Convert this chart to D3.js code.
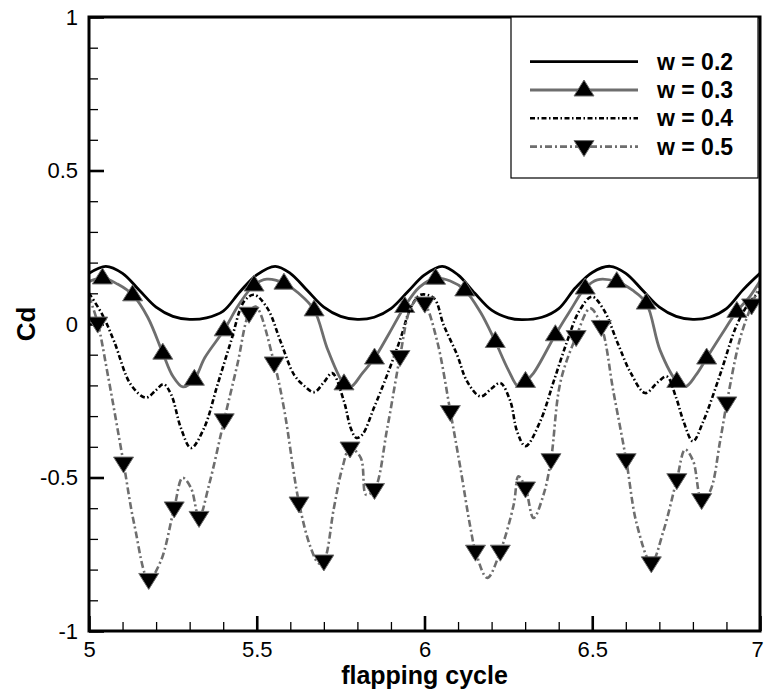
<!DOCTYPE html>
<html>
<head>
<meta charset="utf-8">
<script src="https://cdn.jsdelivr.net/npm/d3@7"></script>
<style>
	body { margin: 0; background: #fff; }
	svg { display: block; font-family: Arial, 'Liberation Sans', sans-serif; }
</style>
</head>
<body>
<svg id="chart" width="764" height="692"></svg>
<script>
'use strict';

var labels = ['w = 0.2', 'w = 0.3', 'w = 0.4', 'w = 0.5'];
var xTicks = [5, 5.5, 6, 6.5, 7];
var yTicks = [-1, -0.5, 0, 0.5, 1];

// Cd vs flapping cycle
var w02 = [
	[5.000,0.165],[5.050,0.188],[5.100,0.165],[5.150,0.110],[5.200,0.055],[5.250,0.025],
	[5.300,0.015],[5.350,0.020],[5.400,0.042],[5.450,0.105],[5.500,0.160],[5.555,0.188],
	[5.600,0.165],[5.650,0.110],[5.700,0.055],[5.750,0.025],[5.800,0.015],[5.850,0.022],
	[5.900,0.050],[5.950,0.105],[6.000,0.160],[6.053,0.188],[6.100,0.160],[6.150,0.100],
	[6.200,0.045],[6.250,0.020],[6.290,0.014],[6.350,0.022],[6.400,0.050],[6.450,0.118],
	[6.500,0.168],[6.553,0.188],[6.600,0.165],[6.650,0.110],[6.700,0.055],[6.750,0.025],
	[6.800,0.015],[6.850,0.022],[6.900,0.050],[6.950,0.112],[7.000,0.165]
];
var w03 = [
	[5.000,0.138],[5.040,0.150],[5.085,0.130],[5.130,0.095],[5.175,0.022],[5.220,-0.095],
	[5.250,-0.170],[5.280,-0.205],[5.314,-0.180],[5.345,-0.110],[5.403,-0.019],[5.445,0.060],
	[5.492,0.127],[5.530,0.146],[5.581,0.133],[5.625,0.100],[5.671,0.046],[5.712,-0.085],
	[5.760,-0.195],[5.780,-0.205],[5.815,-0.160],[5.851,-0.111],[5.895,-0.030],[5.941,0.057],
	[5.985,0.120],[6.033,0.149],[6.077,0.140],[6.120,0.111],[6.167,0.038],[6.211,-0.057],
	[6.250,-0.150],[6.280,-0.204],[6.301,-0.187],[6.325,-0.160],[6.390,-0.035],[6.435,0.045],
	[6.479,0.117],[6.515,0.144],[6.573,0.138],[6.620,0.110],[6.661,0.068],[6.702,-0.085],
	[6.752,-0.187],[6.778,-0.204],[6.810,-0.165],[6.841,-0.111],[6.885,-0.035],[6.931,0.041],
	[6.970,0.090],[7.000,0.140]
];
var w04 = [
	[5.000,0.100],[5.040,0.030],[5.075,-0.057],[5.125,-0.198],[5.170,-0.240],[5.200,-0.215],
	[5.222,-0.196],[5.245,-0.230],[5.274,-0.339],[5.304,-0.404],[5.343,-0.339],[5.383,-0.198],
	[5.423,-0.057],[5.462,0.073],[5.492,0.095],[5.532,0.051],[5.571,-0.057],[5.611,-0.165],
	[5.640,-0.200],[5.671,-0.222],[5.700,-0.190],[5.725,-0.160],[5.760,-0.252],[5.780,-0.339],
	[5.797,-0.371],[5.815,-0.360],[5.849,-0.274],[5.889,-0.165],[5.929,-0.046],[5.958,0.051],
	[5.988,0.095],[6.028,0.084],[6.057,-0.003],[6.097,-0.100],[6.127,-0.187],[6.167,-0.236],
	[6.200,-0.210],[6.226,-0.192],[6.256,-0.252],[6.276,-0.350],[6.301,-0.398],[6.345,-0.317],
	[6.385,-0.187],[6.425,-0.057],[6.460,0.040],[6.499,0.089],[6.535,0.045],[6.575,-0.060],
	[6.615,-0.160],[6.658,-0.225],[6.695,-0.190],[6.722,-0.171],[6.750,-0.240],[6.772,-0.317],
	[6.800,-0.382],[6.831,-0.317],[6.881,-0.165],[6.931,-0.003],[6.970,0.073],[7.000,0.106]
];
var w05 = [
	[5.000,0.090],[5.026,0.003],[5.056,-0.165],[5.103,-0.453],[5.135,-0.653],[5.178,-0.832],
	[5.214,-0.772],[5.254,-0.599],[5.279,-0.501],[5.304,-0.534],[5.328,-0.630],[5.358,-0.523],
	[5.403,-0.312],[5.442,-0.133],[5.477,0.035],[5.497,0.057],[5.552,-0.127],[5.581,-0.274],
	[5.626,-0.583],[5.661,-0.729],[5.685,-0.780],[5.700,-0.772],[5.730,-0.599],[5.755,-0.469],
	[5.778,-0.404],[5.810,-0.436],[5.826,-0.556],[5.851,-0.539],[5.889,-0.339],[5.927,-0.106],
	[5.958,0.051],[5.983,0.084],[6.001,0.068],[6.038,-0.057],[6.077,-0.285],[6.107,-0.469],
	[6.137,-0.664],[6.152,-0.740],[6.187,-0.827],[6.226,-0.740],[6.266,-0.588],[6.280,-0.496],
	[6.301,-0.534],[6.325,-0.632],[6.355,-0.555],[6.377,-0.442],[6.405,-0.190],[6.452,-0.041],
	[6.494,0.051],[6.527,-0.008],[6.563,-0.220],[6.601,-0.442],[6.633,-0.653],[6.676,-0.778],
	[6.712,-0.675],[6.752,-0.507],[6.777,-0.409],[6.801,-0.447],[6.826,-0.572],[6.851,-0.545],
	[6.881,-0.382],[6.901,-0.257],[6.940,-0.050],[6.975,0.062],[7.000,0.128]
];
// x positions of the symbols (they sit on data points of the line)
var w03Marks = [5.040,5.130,5.220,5.314,5.403,5.492,5.581,5.671,5.760,5.851,5.941,6.033,
	6.120,6.211,6.301,6.390,6.479,6.573,6.661,6.752,6.841,6.931];
var w05Marks = [5.026,5.103,5.178,5.254,5.328,5.403,5.477,5.552,5.626,5.700,5.778,5.851,
	5.927,6.001,6.077,6.152,6.226,6.301,6.377,6.452,6.527,6.601,6.676,6.752,6.826,6.901,6.975];

var box = {left: 89, right: 760, top: 17, bottom: 631};
var gray = '#6e6e6e';
var triUp = 'M0,-10L10,6L-10,6Z';
var triDown = 'M0,10L10,-6L-10,-6Z';

var series = [
	{name: labels[0], data: w02, color: '#000', width: 2.8, dash: null, marks: null},
	{name: labels[1], data: w03, color: gray, width: 2.8, dash: null, marks: w03Marks, sym: triUp},
	{name: labels[2], data: w04, color: '#000', width: 2.6, dash: '5,2.5,1.5,2.5', marks: null},
	{name: labels[3], data: w05, color: gray, width: 2.6, dash: '7,3,2,3', marks: w05Marks, sym: triDown}
];

var svg = d3.select('#chart');

var x = d3.scaleLinear().domain([5, 7]).range([box.left, box.right]);
var y = d3.scaleLinear().domain([-1, 1]).range([box.bottom, box.top]);

var line = d3.line()
	.x(function(d) { return x(d[0]); })
	.y(function(d) { return y(d[1]); })
	.curve(d3.curveCatmullRom.alpha(0.5))
	;

function onLine(data, xv) {
	return data.find(function(d) { return Math.abs(d[0]-xv) < 1e-6; });
}

svg.append('clipPath').attr('id', 'plotclip')
	.append('rect')
		.attr('x', box.left).attr('y', box.top)
		.attr('width', box.right-box.left).attr('height', box.bottom-box.top);

// minor ticks
var minorX = d3.range(50, 71).map(function(v) { return v/10; });
var minorY = d3.range(-10, 11).map(function(v) { return v/10; });

var gxMinor = svg.append('g')
	.attr('transform', 'translate(0,'+box.bottom+')')
	.call(d3.axisBottom(x).tickValues(minorX).tickSize(-9).tickFormat(''));
var gyMinor = svg.append('g')
	.attr('transform', 'translate('+box.left+',0)')
	.call(d3.axisLeft(y).tickValues(minorY).tickSize(-9).tickFormat(''));
[gxMinor, gyMinor].forEach(function(g) {
	g.select('.domain').remove();
	g.selectAll('line').attr('stroke', '#000').attr('stroke-width', 1.3);
});

// major ticks + labels
var gx = svg.append('g')
	.attr('transform', 'translate(0,'+box.bottom+')')
	.call(d3.axisBottom(x).tickValues(xTicks).tickSize(-15).tickPadding(10)
		.tickFormat(function(d) { return String(d); }));
var gy = svg.append('g')
	.attr('transform', 'translate('+box.left+',0)')
	.call(d3.axisLeft(y).tickValues(yTicks).tickSize(-15).tickPadding(11)
		.tickFormat(function(d) { return String(d); }));
[gx, gy].forEach(function(g) {
	g.select('.domain').remove();
	g.selectAll('line').attr('stroke', '#000').attr('stroke-width', 2.6);
	g.selectAll('text')
		.attr('fill', '#000')
		.attr('font-size', '22px')
		.attr('font-family', 'Arial, "Liberation Sans", sans-serif');
});
// last x label sits right at the page edge, keep it inside
gx.selectAll('text').filter(function(d) { return d === 7; }).attr('dx', -3);

// curves
var plot = svg.append('g').attr('clip-path', 'url(#plotclip)');
series.forEach(function(s) {
	plot.append('path')
		.datum(s.data)
		.attr('fill', 'none')
		.attr('stroke', s.color)
		.attr('stroke-width', s.width)
		.attr('stroke-dasharray', s.dash)
		.attr('stroke-linejoin', 'round')
		.attr('d', line)
		;
	if (!s.marks) return;
	plot.selectAll(null)
		.data(s.marks.map(function(m) { return onLine(s.data, m); }))
		.enter()
		.append('path')
			.attr('d', s.sym)
			.attr('transform', function(d) { return 'translate('+x(d[0])+','+y(d[1])+')'; })
			.attr('fill', '#000')
			.attr('stroke', s.color)
			.attr('stroke-width', 1)
		;
});

// frame
svg.append('rect')
	.attr('x', box.left).attr('y', box.top)
	.attr('width', box.right-box.left).attr('height', box.bottom-box.top)
	.attr('fill', 'none')
	.attr('stroke', '#000')
	.attr('stroke-width', 3)
	;

// axis titles
svg.append('text')
	.attr('x', (box.left+box.right)/2)
	.attr('y', 684)
	.attr('text-anchor', 'middle')
	.attr('font-weight', 'bold')
	.attr('font-size', '25px')
	.text('flapping cycle')
	;
svg.append('text')
	.attr('transform', 'translate(35,'+y(0)+') rotate(-90)')
	.attr('text-anchor', 'middle')
	.attr('font-weight', 'bold')
	.attr('font-size', '26px')
	.text('Cd')
	;

// legend
var legend = svg.append('g');
legend.append('rect')
	.attr('x', 511).attr('y', box.top)
	.attr('width', 247).attr('height', 161)
	.attr('fill', '#fff')
	.attr('stroke', '#000')
	.attr('stroke-width', 1.2)
	;
series.forEach(function(s, i) {
	var ly = 61.7 + i*28.3;
	legend.append('line')
		.attr('x1', 530).attr('x2', 638)
		.attr('y1', ly).attr('y2', ly)
		.attr('stroke', s.color)
		.attr('stroke-width', s.width)
		.attr('stroke-dasharray', s.dash)
		;
	if (s.sym)
		legend.append('path')
			.attr('d', s.sym)
			.attr('transform', 'translate(584,'+ly+')')
			.attr('fill', '#000')
			.attr('stroke', s.color)
			.attr('stroke-width', 1)
			;
	legend.append('text')
		.attr('x', 657)
		.attr('y', ly+8)
		.attr('font-weight', 'bold')
		.attr('font-size', '23px')
		.text(s.name)
		;
});
</script>
</body>
</html>
